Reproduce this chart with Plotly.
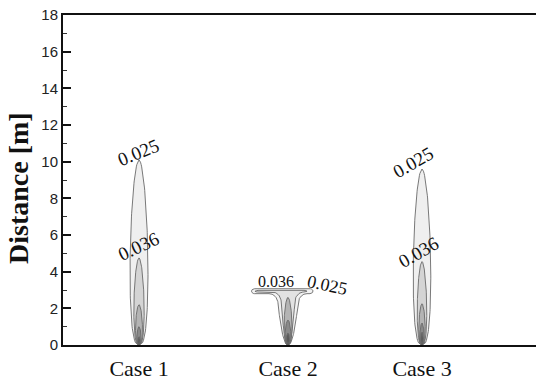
import numpy as np
import plotly.graph_objects as go

# ---------------- data ----------------
cases = ["Case 1", "Case 2", "Case 3"]
case_x = [7.6, 22.5, 35.9]          # horizontal position of each source

# contour bands, outer -> inner
band_colors = ["#efefef", "#d4d4d4", "#b4b4b4", "#8a8a8a", "#5a5a5a", "#303030"]

# Case 1 plume: contour heights [m] and max half-widths
case1_heights = [10.1, 4.75, 2.2, 1.0, 0.45, 0.18]
case1_halfw = [0.90, 0.52, 0.35, 0.21, 0.13, 0.07]

# Case 3 plume
case3_heights = [9.6, 4.55, 2.25, 1.2, 0.7, 0.25]
case3_halfw = [0.88, 0.48, 0.32, 0.21, 0.13, 0.07]

# Case 2: T-shaped outer contours (cap bottom, cap top, left, right, stem half-width)
case2_t_levels = [
    dict(cap_lo=2.80, cap_hi=3.07, left=18.85, right=25.0, stem=1.0),
    dict(cap_lo=2.89, cap_hi=2.98, left=19.2, right=24.4, stem=0.68),
]
case2_heights = [2.6, 1.36, 0.65, 0.22]
case2_halfw = [0.40, 0.29, 0.17, 0.07]

# contour labels: (text, x, y, angle, size)
contour_labels = [
    ("0.025", 7.5, 10.5, -22, 19),
    ("0.036", 7.5, 5.4, -25, 19),
    ("0.025", 35.0, 9.93, -30, 19),
    ("0.036", 35.5, 5.07, -30, 19),
    ("0.036", 21.3, 3.49, 0, 16),
    ("0.025", 26.4, 3.27, 12, 18),
]

y_ticks = list(range(0, 19, 2))

# ---------------- geometry helpers ----------------
def plume(cx, H, W, a=0.35, b=0.55, n=80):
    t = np.linspace(0, 1, n)
    tm = a / (a + b)
    f = (t ** a) * ((1 - t) ** b) / ((tm ** a) * ((1 - tm) ** b))
    y = H * t
    xs = np.concatenate([cx + W * f, (cx - W * f)[::-1]])
    ys = np.concatenate([y, y[::-1]])
    return xs, ys


def tee(cx, p, n=40):
    lo, hi, L, R, S = p["cap_lo"], p["cap_hi"], p["left"], p["right"], p["stem"]
    fil_y = 0.55   # fillet height
    fil_x = 0.9    # fillet width
    ys = np.linspace(0, lo - fil_y, n)
    ts = ys / (lo - fil_y)
    wr = S * ts ** 0.45
    xr = list(cx + wr)
    yr = list(ys)
    th = np.linspace(0, np.pi / 2, 15)
    xr += list(cx + S + fil_x * (1 - np.cos(th)))
    yr += list(lo - fil_y + fil_y * np.sin(th))
    r = (hi - lo) / 2
    ph = np.linspace(-np.pi / 2, np.pi / 2, 15)
    xr += list(R - 0.3 + 0.3 * np.cos(ph))
    yr += list(lo + r + r * np.sin(ph))
    ph2 = np.linspace(np.pi / 2, 3 * np.pi / 2, 15)
    xr += list(L + 0.3 + 0.3 * np.cos(ph2))
    yr += list(lo + r + r * np.sin(ph2))
    th2 = np.linspace(np.pi / 2, 0, 15)
    xr += list(cx - S - fil_x * (1 - np.cos(th2)))
    yr += list(lo - fil_y + fil_y * np.sin(th2))
    xr += list((cx - wr)[::-1])
    yr += list(ys[::-1])
    return xr, yr


fig = go.Figure()

def add_shape(xs, ys, color):
    fig.add_trace(go.Scatter(x=xs, y=ys, mode="lines", fill="toself",
                             fillcolor=color,
                             line=dict(color="#6a6a6a", width=0.9),
                             hoverinfo="skip", showlegend=False))

for H, W, c in zip(case1_heights, case1_halfw, band_colors):
    add_shape(*plume(case_x[0], H, W), c)

for p, c in zip(case2_t_levels, ["#f2f2f2", "#e2e2e2"]):
    add_shape(*tee(case_x[1], p), c)
for H, W, c in zip(case2_heights, case2_halfw, band_colors[2:]):
    add_shape(*plume(case_x[1], H, W), c)

for H, W, c in zip(case3_heights, case3_halfw, band_colors):
    add_shape(*plume(case_x[2], H, W), c)

for txt, x, y, ang, sz in contour_labels:
    fig.add_annotation(x=x, y=y, xref="x", yref="y", text=txt, showarrow=False,
                       textangle=ang, xanchor="center", yanchor="middle",
                       font=dict(family="Liberation Serif", size=sz, color="#111"))

fig.add_annotation(x=(19 - 63) / 473, y=(345 - 188) / 330, xref="paper", yref="paper",
                   text="<b>Distance [m]</b>", showarrow=False, textangle=-90,
                   xanchor="center", yanchor="middle",
                   font=dict(family="Liberation Serif", size=28, color="#111"))

fig.update_layout(
    width=536, height=383,
    margin=dict(l=63, r=0, t=15, b=38, autoexpand=False),
    paper_bgcolor="white", plot_bgcolor="white",
    showlegend=False,
    xaxis=dict(range=[0, 47.3], showgrid=False, zeroline=False, automargin=False,
               showline=True, linecolor="#111", linewidth=2, mirror=True,
               tickvals=case_x, ticktext=cases, ticks="",
               ticklabelstandoff=3,
               tickfont=dict(family="Liberation Serif", size=22, color="#111")),
    yaxis=dict(range=[0, 18], showgrid=False, zeroline=False, automargin=False,
               showline=True, linecolor="#111", linewidth=2,
               tickvals=y_ticks, ticks="inside", ticklen=8, tickwidth=1.5,
               tickcolor="#111",
               minor=dict(ticks="inside", ticklen=4, dtick=1, tickwidth=1, tickcolor="#333"),
               tickfont=dict(family="Liberation Sans", size=15, color="#222")),
)

fig.write_html("out.html")
